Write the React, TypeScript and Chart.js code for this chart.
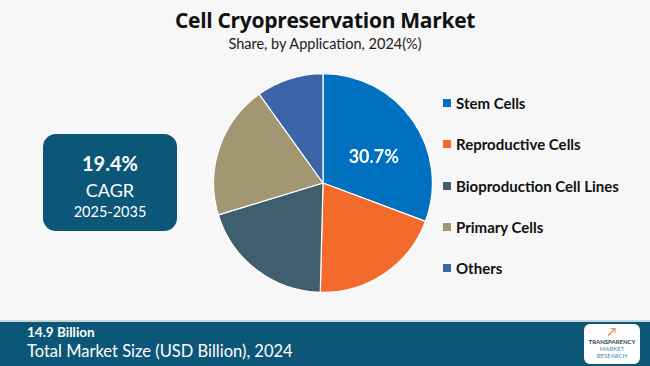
import React, { useEffect, useRef } from "react";
import { Chart, registerables } from "chart.js";

Chart.register(...registerables);

const categories = ["Stem Cells", "Reproductive Cells", "Bioproduction Cell Lines", "Primary Cells", "Others"];
const shares = [30.7, 19.7, 19.9, 19.8, 9.9];
const colors = ["#0070C0", "#F26B2B", "#3F5F6F", "#A39672", "#3B63A8"];
const labelledIndex = 0;

const titleText = "Cell Cryopreservation Market";
const subtitleText = "Share, by Application, 2024(%)";
const cagrValue = "19.4%";
const cagrLabel = "CAGR";
const cagrPeriod = "2025-2035";
const marketSize = "14.9 Billion";
const marketLabel = "Total Market Size (USD Billion), 2024";

const DARK = "#0C5677";
const gothic = "'Lato', 'Open Sans', sans-serif";

const sliceLabelPlugin = {
  id: "sliceLabel",
  afterDatasetsDraw(chart: any) {
    const meta = chart.getDatasetMeta(0);
    const arc = meta.data[labelledIndex];
    if (!arc) return;
    const p = arc.getProps(["x", "y", "startAngle", "endAngle", "outerRadius"], true);
    const mid = (p.startAngle + p.endAngle) / 2 + 0.14;
    const r = p.outerRadius * 0.52;
    const ctx = chart.ctx;
    ctx.save();
    ctx.fillStyle = "#ffffff";
    ctx.font = "bold 18px " + gothic;
    ctx.textAlign = "center";
    ctx.textBaseline = "middle";
    ctx.fillText(shares[labelledIndex].toFixed(1) + "%", p.x + Math.cos(mid) * r, p.y + Math.sin(mid) * r);
    ctx.restore();
  },
};

export default function App() {
  const ref = useRef<HTMLCanvasElement | null>(null);
  useEffect(() => {
    if (!ref.current) return;
    const chart = new Chart(ref.current, {
      type: "pie",
      data: {
        labels: categories,
        datasets: [
          {
            data: shares,
            backgroundColor: colors,
            borderColor: "#ffffff",
            borderWidth: 1.2,
          },
        ],
      },
      options: {
        responsive: false,
        animation: false,
        layout: { padding: 0 },
        plugins: { legend: { display: false }, tooltip: { enabled: false } },
      },
      plugins: [sliceLabelPlugin],
    });
    return () => chart.destroy();
  }, []);

  return (
    <div
      style={{
        position: "absolute",
        left: 0,
        top: 0,
        width: 650,
        height: 366,
        background: "#F7F7F7",
        overflow: "hidden",
        fontFamily: gothic,
      }}
    >
      <div
        style={{
          position: "absolute",
          left: 0,
          width: 650,
          top: 6,
          textAlign: "center",
          fontSize: 21,
          fontWeight: 700,
          color: "#111",
          fontFamily: "'Open Sans', sans-serif",
          letterSpacing: -0.3,
        }}
      >
        {titleText}
      </div>
      <div
        style={{
          position: "absolute",
          left: 0,
          width: 650,
          top: 35,
          textAlign: "center",
          fontSize: 14.5,
          color: "#222",
        }}
      >
        {subtitleText}
      </div>

      <div
        style={{
          position: "absolute",
          left: 43,
          top: 134,
          width: 134,
          height: 97,
          background: DARK,
          borderRadius: 13,
          color: "#fff",
          textAlign: "center",
        }}
      >
        <div style={{ position: "absolute", top: 17, width: "100%", fontSize: 20, fontWeight: 700 }}>{cagrValue}</div>
        <div style={{ position: "absolute", top: 45, width: "100%", fontSize: 18 }}>{cagrLabel}</div>
        <div style={{ position: "absolute", top: 69, width: "100%", fontSize: 14.5 }}>{cagrPeriod}</div>
      </div>

      <canvas ref={ref} width={220} height={220} style={{ position: "absolute", left: 213, top: 73, width: 220, height: 220 }} />

      {categories.map((c, i) => (
        <div key={c} style={{ position: "absolute", left: 443, top: 93 + i * 41.3, height: 20, display: "flex", alignItems: "center" }}>
          <div style={{ width: 8, height: 8, background: colors[i], marginRight: 5 }} />
          <div style={{ fontSize: 15, fontWeight: 700, color: "#111", fontFamily: "'Lato', sans-serif" }}>{c}</div>
        </div>
      ))}

      <div
        style={{
          position: "absolute",
          left: 0,
          top: 320,
          width: 650,
          height: 46,
          background: DARK,
          borderTop: "2px solid #C9D6DC",
        }}
      >
        <div style={{ position: "absolute", left: 27, top: 2, fontSize: 13.5, fontWeight: 700, color: "#fff" }}>{marketSize}</div>
        <div style={{ position: "absolute", left: 27, top: 19, fontSize: 16.5, color: "#fff" }}>{marketLabel}</div>
        <div
          style={{
            position: "absolute",
            left: 584,
            top: 2,
            width: 56,
            height: 40,
            background: "#fff",
            borderRadius: 6,
            textAlign: "center",
            fontSize: 6,
            lineHeight: "7px",
          }}
        >
          <div style={{ color: "#F26B2B", fontSize: 12, lineHeight: "13px", marginTop: 1 }}>↗</div>
          <div style={{ color: "#1F3F55", fontWeight: 700 }}>TRANSPARENCY</div>
          <div style={{ color: "#4A8BA8" }}>MARKET RESEARCH</div>
        </div>
      </div>
    </div>
  );
}
